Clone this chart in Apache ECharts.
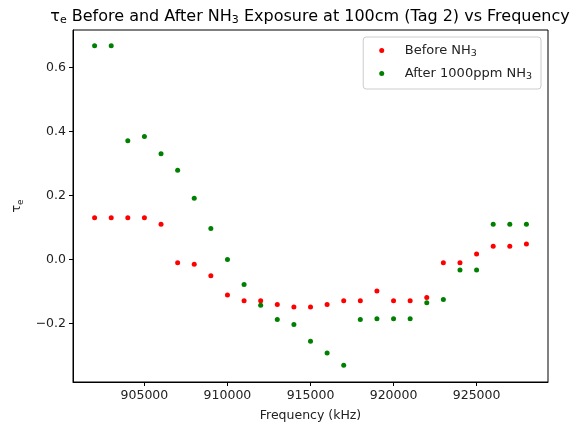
<!DOCTYPE html>
<html>
<head>
<meta charset="utf-8">
<script src="https://cdn.jsdelivr.net/npm/echarts@6/dist/echarts.min.js"></script>
<style>
  html, body { margin: 0; padding: 0; background: #fff; }
  #chart { width: 579px; height: 431px; }
</style>
</head>
<body>
<div id="chart"></div>
<script>
// frequencies in kHz
var freqs = [902000, 903000, 904000, 905000, 906000, 907000, 908000, 909000, 910000,
             911000, 912000, 913000, 914000, 915000, 916000, 917000, 918000, 919000,
             920000, 921000, 922000, 923000, 924000, 925000, 926000, 927000, 928000];
var beforeVals = [0.13, 0.13, 0.13, 0.13, 0.11, -0.01, -0.015, -0.051, -0.111,
                  -0.129, -0.129, -0.141, -0.149, -0.149, -0.141, -0.129, -0.129, -0.099,
                  -0.129, -0.129, -0.119, -0.01, -0.01, 0.017, 0.041, 0.041, 0.048];
var afterVals = [0.668, 0.668, 0.371, 0.384, 0.330, 0.279, 0.191, 0.097, 0.0,
                 -0.078, -0.143, -0.188, -0.203, -0.256, -0.292, -0.331, -0.188, -0.185,
                 -0.185, -0.185, -0.135, -0.125, -0.033, -0.033, 0.11, 0.11, 0.11];
var xTicks = [905000, 910000, 915000, 920000, 925000];
var yTicks = [-0.2, 0.0, 0.2, 0.4, 0.6];

var font = 'DejaVu Sans';
var subStyle = { fontSize: 9.5, fontFamily: font, color: '#222', padding: [7, 0, 0, 0] };

function pairs(vals) {
    var out = [];
    for (var i = 0; i < freqs.length; i++) {
        out.push([freqs[i], vals[i]]);
    }
    return out;
}

var chart = echarts.init(document.getElementById('chart'), null, { renderer: 'canvas' });

var option = {
    animation: false,
    backgroundColor: '#fff',
    grid: { left: 73, right: 31, top: 30, bottom: 49, show: true, borderColor: '#000', borderWidth: 1 },
    graphic: [{
        type: 'text',
        x: 310,
        y: 8,
        style: {
            text: 'τ{s|e} Before and After NH{s|3} Exposure at 100cm (Tag 2) vs Frequency',
            font: '16px "DejaVu Sans"',
            fill: '#000',
            align: 'center',
            rich: { s: { fontSize: 11, fontFamily: font, fill: '#000', padding: [7, 0, 0, 0] } }
        }
    }],
    legend: {
        orient: 'vertical',
        right: 38,
        top: 37,
        icon: 'circle',
        itemWidth: 24,
        itemHeight: 5,
        itemGap: 8,
        padding: [7, 9, 7, 16],
        backgroundColor: '#fff',
        borderColor: '#ccc',
        borderWidth: 1,
        borderRadius: 3,
        formatter: function (name) {
            return name.replace('NH3', 'NH{s|3}');
        },
        textStyle: {
            fontFamily: font,
            fontSize: 13,
            color: '#222',
            padding: [0, 0, 0, 6],
            rich: { s: subStyle }
        },
        data: ['Before NH3', 'After 1000ppm NH3']
    },
    xAxis: {
        type: 'value',
        min: 900700,
        max: 929300,
        name: 'Frequency (kHz)',
        nameLocation: 'middle',
        nameGap: 27,
        nameTextStyle: { fontFamily: font, fontSize: 12.5, color: '#222' },
        axisLine: { show: true, onZero: false, lineStyle: { color: '#000' } },
        axisTick: { show: true, inside: false, length: 4, customValues: xTicks, lineStyle: { color: '#000' } },
        axisLabel: {
            customValues: xTicks,
            margin: 7,
            fontFamily: font,
            fontSize: 12.5,
            color: '#222',
            formatter: function (v) { return String(v); }
        },
        splitLine: { show: false }
    },
    yAxis: {
        type: 'value',
        min: -0.383,
        max: 0.717,
        name: 'τ{s|e}',
        nameLocation: 'middle',
        nameGap: 46,
        nameRotate: 90,
        nameTextStyle: {
            fontFamily: font, fontSize: 12.5, color: '#222',
            rich: { s: { fontSize: 9, fontFamily: font, color: '#222', padding: [7, 0, 0, 0] } }
        },
        axisLine: { show: true, onZero: false, lineStyle: { color: '#000' } },
        axisTick: { show: true, inside: false, length: 4, customValues: yTicks, lineStyle: { color: '#000' } },
        axisLabel: {
            customValues: yTicks,
            margin: 7,
            fontFamily: font,
            fontSize: 12.5,
            color: '#222',
            formatter: function (v) {
                var s = Math.abs(v).toFixed(1);
                return v < -1e-9 ? '\u2212' + s : s;
            }
        },
        splitLine: { show: false }
    },
    series: [
        {
            name: 'Before NH3',
            type: 'scatter',
            symbolSize: 5,
            itemStyle: { color: '#ff0000', opacity: 1 },
            data: pairs(beforeVals)
        },
        {
            name: 'After 1000ppm NH3',
            type: 'scatter',
            symbolSize: 5,
            itemStyle: { color: '#008000', opacity: 1 },
            data: pairs(afterVals)
        }
    ]
};

chart.setOption(option);
window.addEventListener('resize', function () {
    chart.resize();
});
</script>
</body>
</html>
